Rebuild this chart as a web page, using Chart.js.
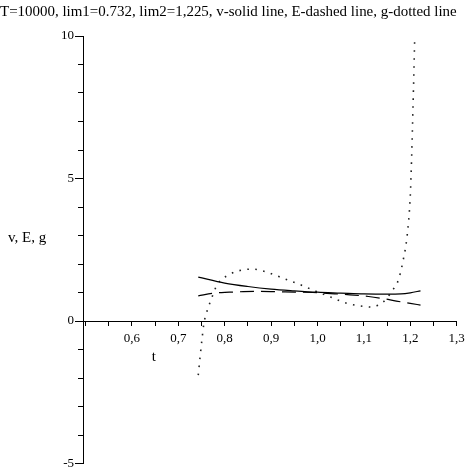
<!DOCTYPE html>
<html>
<head>
<meta charset="utf-8">
<script src="https://cdn.jsdelivr.net/npm/chart.js@4/dist/chart.umd.min.js"></script>
<style>
  html, body { margin: 0; padding: 0; background: #fff; }
  #wrap { width: 466px; height: 469px; }
</style>
</head>
<body>
<div id="wrap"><canvas id="c" width="466" height="469"></canvas></div>
<script>
// ---- data ----
const titleText = 'T=10000, lim1=0.732, lim2=1,225, v-solid line, E-dashed line, g-dotted line';
const xAxisTitle = 't';
const yAxisTitle = 'v, E, g';

// v (solid line)
const tV = [0.743, 0.80, 0.85, 0.90, 0.95, 1.00, 1.05, 1.10, 1.15, 1.18, 1.20, 1.222];
const vValues = [1.54, 1.33, 1.21, 1.12, 1.06, 1.01, 0.98, 0.95, 0.94, 0.95, 0.99, 1.06];

// E (dashed line)
const tE = [0.743, 0.777, 0.81, 0.84, 0.87, 0.93, 0.99, 1.02, 1.07, 1.11, 1.14, 1.17, 1.20, 1.222];
const eValues = [0.88, 0.98, 1.01, 1.03, 1.04, 1.02, 1.00, 0.97, 0.92, 0.86, 0.79, 0.70, 0.62, 0.56];

// g (dotted line)
const tG = [0.743, 0.747, 0.751, 0.755, 0.762, 0.770, 0.784, 0.810, 0.835, 0.860, 0.890, 0.918, 0.962, 1.000,
            1.027, 1.063, 1.092, 1.117, 1.130, 1.150, 1.160, 1.171, 1.178, 1.185, 1.193, 1.200, 1.203, 1.2055, 1.2096, 1.212];
const gValues = [-1.90, -1.25, -0.65, -0.10, 0.35, 0.72, 1.28, 1.63, 1.78, 1.82, 1.72, 1.55, 1.28, 1.02,
                 0.85, 0.62, 0.53, 0.49, 0.55, 0.80, 1.05, 1.30, 1.65, 2.16, 2.97, 4.40, 5.80, 7.30, 10.0, 11.8];

// ticks
const xTickValues = [0.5, 0.55, 0.6, 0.65, 0.7, 0.75, 0.8, 0.85, 0.9, 0.95, 1.0, 1.05, 1.1, 1.15, 1.2, 1.25, 1.3];
const xTickLabels = ['', '', '0,6', '', '0,7', '', '0,8', '', '0,9', '', '1,0', '', '1,1', '', '1,2', '', '1,3'];
const yTickValues = [-5, -4, -3, -2, -1, 0, 1, 2, 3, 4, 5, 6, 7, 8, 9, 10];
const yTickLabels = ['-5', '', '', '', '', '0', '', '', '', '', '5', '', '', '', '', '10'];

// ---- chart ----
const toPts = (xs, ys) => xs.map((x, i) => ({ x: x, y: ys[i] }));
const serif = '"Liberation Serif", "Times New Roman", serif';

const freeLabels = {
  id: 'freeLabels',
  afterDraw(chart) {
    const ctx = chart.ctx;
    const xs = chart.scales.x, ys = chart.scales.y;
    ctx.save();
    ctx.fillStyle = '#000';
    ctx.font = '15px ' + serif;
    ctx.textBaseline = 'middle';
    ctx.textAlign = 'left';
    ctx.fillText(yAxisTitle, 8, ys.getPixelForValue(2.9));
    ctx.textAlign = 'center';
    ctx.fillText(xAxisTitle, xs.getPixelForValue(0.647), ys.getPixelForValue(-1.25));
    ctx.restore();
  }
};

new Chart(document.getElementById('c'), {
  type: 'scatter',
  data: {
    datasets: [
      { label: 'v', data: toPts(tV, vValues), showLine: true, borderColor: '#000', borderWidth: 1.2,
        pointRadius: 0, cubicInterpolationMode: 'monotone', fill: false },
      { label: 'E', data: toPts(tE, eValues), showLine: true, borderColor: '#000', borderWidth: 1.2,
        borderDash: [14, 7], pointRadius: 0, cubicInterpolationMode: 'monotone', fill: false },
      { label: 'g', data: toPts(tG, gValues), showLine: true, borderColor: '#222', borderWidth: 1.6,
        borderDash: [1.6, 6.4], pointRadius: 0, cubicInterpolationMode: 'monotone', fill: false }
    ]
  },
  options: {
    responsive: false,
    animation: false,
    devicePixelRatio: 1,
    layout: { padding: { top: 0, left: 0, right: 9.3, bottom: 5.5 } },
    plugins: {
      legend: { display: false },
      tooltip: { enabled: false },
      title: {
        display: true, text: titleText, color: '#000',
        font: { family: serif, size: 15, weight: 'normal' },
        padding: { top: 3, bottom: 15 }
      }
    },
    scales: {
      x: {
        type: 'linear', min: 0.4946, max: 1.3, position: { y: 0 },
        afterBuildTicks: s => { s.ticks = xTickValues.map(v => ({ value: v })); },
        afterFit: s => { s.height = 0; s.paddingLeft = 0; s.paddingRight = 0; },
        ticks: { autoSkip: false, maxRotation: 0, minRotation: 0, padding: 6, color: '#000',
                 font: { family: serif, size: 13 }, callback: (v, i) => xTickLabels[i] },
        grid: { drawOnChartArea: false, drawTicks: true, tickLength: 4, color: '#000', tickWidth: 1 },
        border: { display: true, color: '#000', width: 1 }
      },
      y: {
        type: 'linear', min: -5, max: 10, position: 'left',
        afterBuildTicks: s => { s.ticks = yTickValues.map(v => ({ value: v })); },
        afterFit: s => { s.width = 83; s.paddingTop = 0; s.paddingBottom = 0; },
        ticks: { autoSkip: false, padding: 1, color: '#000',
                 font: { family: serif, size: 13 }, callback: (v, i) => yTickLabels[i] },
        grid: { drawOnChartArea: false, drawTicks: true, tickLength: 8, color: '#000', tickWidth: 1,
                tickBorderDash: ctx => (yTickLabels[ctx.index] ? [] : [0, 3, 5, 100]) },
        border: { display: true, color: '#000', width: 1 }
      }
    }
  },
  plugins: [freeLabels]
});
</script>
</body>
</html>
